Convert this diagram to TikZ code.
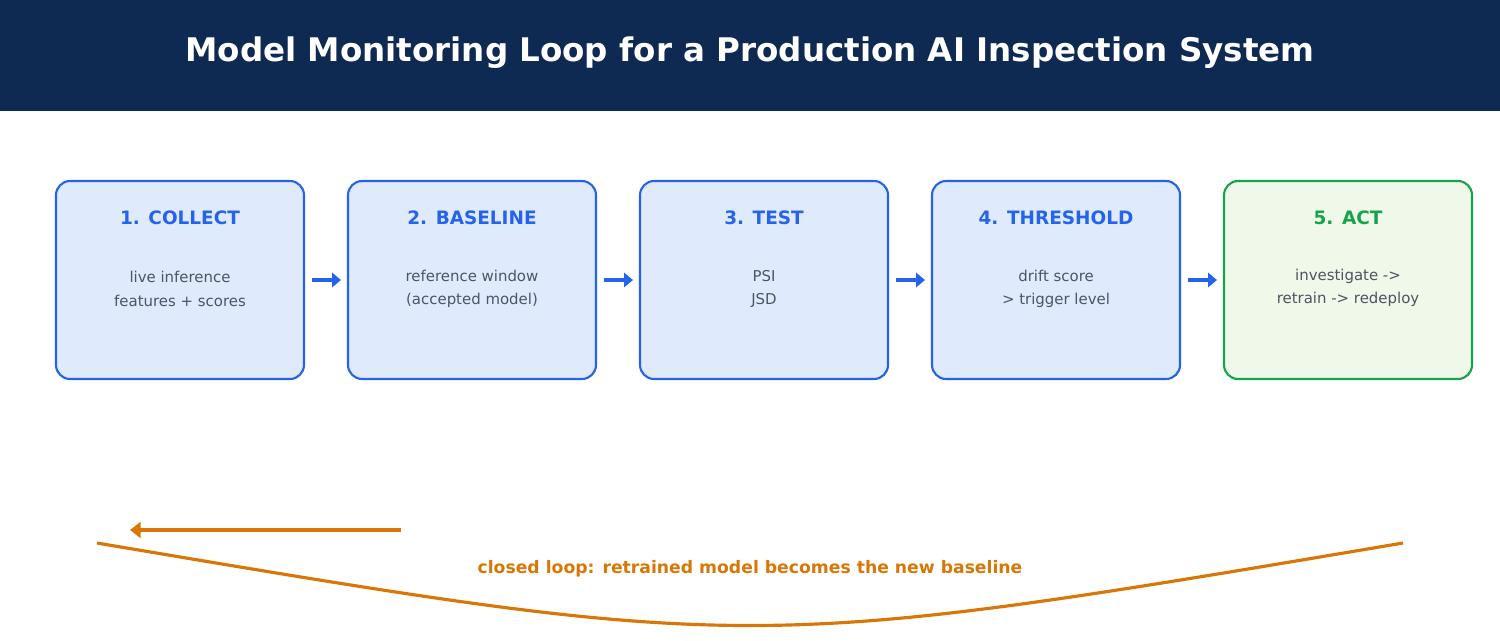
\documentclass[tikz,border=0pt]{standalone}
\usepackage{fontspec}
\setmainfont{DejaVu Sans}
\usetikzlibrary{arrows.meta}
\definecolor{navy}{HTML}{0F2A52}
\definecolor{bblue}{HTML}{2563EB}
\definecolor{bfill}{HTML}{DFEBFD}
\definecolor{ggreen}{HTML}{16A34A}
\definecolor{gfill}{HTML}{F0F8EA}
\definecolor{txt}{HTML}{4B5563}
\definecolor{orng}{HTML}{D97706}
\begin{document}
\begin{tikzpicture}[x=0.02cm,y=-0.02cm,
  box/.style={draw=bblue,fill=bfill,line width=1.2pt,rounded corners=0.28cm,minimum width=4.96cm,minimum height=3.96cm,inner sep=0pt},
  gbox/.style={box,draw=ggreen,fill=gfill},
  ttl/.style={font=\bfseries\fontsize{10.5}{12}\selectfont,text=bblue},
  bd/.style={font=\fontsize{8.5}{13.5}\selectfont,text=txt,align=center},
  conn/.style={draw=bblue,line width=2.2pt,-{Triangle[length=5pt,width=8pt]}}]
\useasboundingbox (0,0) rectangle (1500,640);
\fill[navy] (0,0) rectangle (1500,111);
\node[text=white,font=\bfseries\fontsize{18.5}{22}\selectfont] (title) at (750,53) {Model Monitoring Loop for a Production AI Inspection System};
\foreach \i/\x/\t/\a/\b in {1/180/1. COLLECT/live inference/features + scores,2/472/2. BASELINE/reference window/(accepted model),3/764/3. TEST/PSI / JSD //Wasserstein,4/1056/4. THRESHOLD/drift score/> trigger level}{
  \node[box] (b\i) at (\x,280) {};
  \node[ttl] (t\i) at (\x,218) {\t};
  \node[bd] (d\i) at (\x,289) {\a\\\b};
}
\node[gbox] (b5) at (1348,280) {};
\node[ttl,text=ggreen] (t5) at (1348,218) {5. ACT};
\node[bd] (d5) at (1348,288) {investigate ->\\retrain -> redeploy};
\foreach \i/\j in {1/2,2/3,3/4,4/5}{
  \draw[conn] ([xshift=0.14cm]b\i.east) -- ([xshift=-0.12cm]b\j.west);
}
\coordinate (cl) at (97,543);
\coordinate (cr) at (1403,543);
\draw[orng,line width=1.8pt] (cl) .. controls (750,653) .. (cr);
\coordinate (as) at (401,530);
\coordinate (ae) at (130,530);
\draw[orng,line width=2.6pt,-{Triangle[length=6pt,width=9pt]}] (as) -- (ae);
\node[text=orng,font=\bfseries\fontsize{9.8}{12}\selectfont] (lbl) at (750,569) {closed loop: retrained model becomes the new baseline};
\end{tikzpicture}
\end{document}
